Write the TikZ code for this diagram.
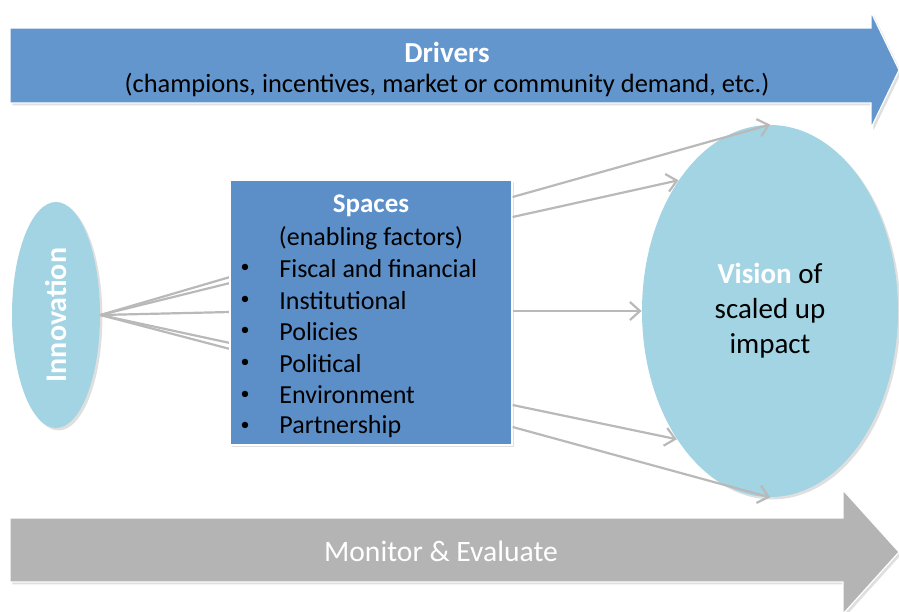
\documentclass[tikz,border=0pt]{standalone}
\usepackage{fontspec}
\setmainfont{Carlito}
\usepackage{tikz}
\usetikzlibrary{arrows,arrows.meta}
\usetikzlibrary{shadows}
\usetikzlibrary{shapes.geometric, positioning}

\definecolor{barblue}{RGB}{99,150,204}
\definecolor{boxblue}{RGB}{92,143,200}
\definecolor{lightblue}{RGB}{162,212,227}
\definecolor{bargray}{RGB}{180,180,180}
\definecolor{linegray}{RGB}{185,185,185}

\tikzset{
	softshadow/.style={drop shadow={opacity=0.25, shadow xshift=1.2pt, shadow yshift=-1.2pt}},
	bigarrow/.style={softshadow, draw=white, line width=0.6pt},
	blob/.style={ellipse, fill=lightblue, softshadow, inner sep=0pt},
	link/.style={draw=linegray, line width=1.1pt},
	flow/.style={link, -{Straight Barb[length=5pt, width=9pt]}},
	itemtext/.style={anchor=west, font=\fontsize{13}{15}\selectfont, inner sep=0pt}
}

\begin{document}
\begin{tikzpicture}[x=0.5pt, y=-0.5pt]
		\useasboundingbox (0,0) rectangle (899,611);
		% drivers bar
		\fill[barblue, bigarrow] (10,28) -- (871,28) -- (871,12) -- (899,70) -- (871,128) -- (871,103) -- (10,103) -- cycle;
		\node[white, font=\fontsize{14.5}{16}\selectfont\bfseries] (drivers) at (447,52) {Drivers};
		\node[font=\fontsize{13.2}{15}\selectfont] (driversub) at (447,85) {(champions, incentives, market or community demand, etc.)};
		% monitor bar
		\fill[bargray, bigarrow] (10,518) -- (843,518) -- (843,490) -- (899,552) -- (843,614) -- (843,582) -- (10,582) -- cycle;
		\node[white, font=\fontsize{14.8}{16}\selectfont] (monitor) at (441,551) {Monitor \& Evaluate};
		% innovation
		\node[blob, minimum width=44pt, minimum height=113pt] (innov) at (56,315) {};
		\node[white, rotate=90, font=\fontsize{15}{17}\selectfont\bfseries] at (innov.center) {Innovation};
		\foreach \yy in {277,283,312,343,349}
			\draw[link] (innov.east) -- (230,\yy);
		% spaces box
		\node[fill=boxblue, draw=white, line width=0.6pt, softshadow, minimum width=141pt, minimum height=132.5pt, inner sep=0pt] (spaces) at (371,312.5) {};
		\node[white, font=\fontsize{13.5}{15}\selectfont\bfseries] (spacestitle) at (371,206) {Spaces};
		\node[font=\fontsize{13}{15}\selectfont] (enabling) at (371,238) {(enabling factors)};
		\foreach \factor [count=\i] in {Fiscal and financial, Institutional, Policies, Political, Environment, Partnership}{
			\node[itemtext] (f\i) at (279,237+31.6*\i) {\factor};
			\node[font=\fontsize{9}{11}\selectfont] at (245,237+31.6*\i) {\textbullet};
		}
		% vision
		\node[blob, minimum width=128pt, minimum height=186pt, align=center, font=\fontsize{14.5}{17.5}\selectfont] (vision) at (770,311) {\textcolor{white}{\textbf{Vision}} of\\scaled up\\impact};
		\draw[flow] (spaces.east |- 0,197) -- (vision.north);
		\draw[flow] (spaces.east |- 0,217) -- (vision.125);
		\draw[flow] (spaces.east |- 0,311) -- (vision.west);
		\draw[flow] (spaces.east |- 0,405) -- (vision.234);
		\draw[flow] (spaces.east |- 0,427) -- (vision.south);
	\end{tikzpicture}
\end{document}
